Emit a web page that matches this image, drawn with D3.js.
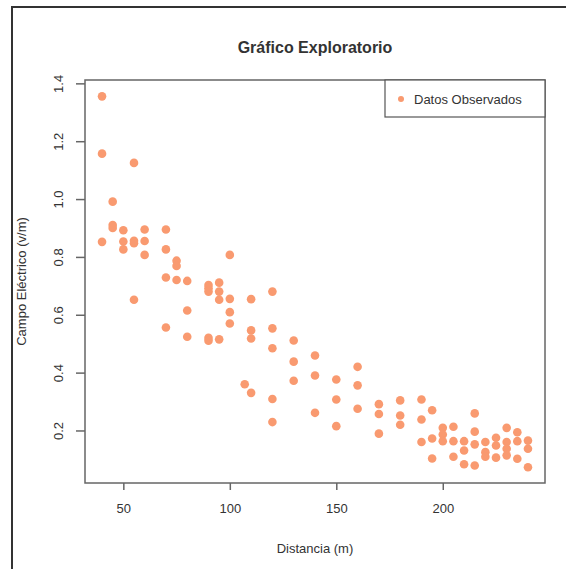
<!DOCTYPE html>
<html lang="es">
<head>
    <meta charset="UTF-8">
    <title>Gráfico Exploratorio</title>
    <script src="https://cdn.jsdelivr.net/npm/d3@7"></script>
    <style>
        body { margin: 0; background: #fff; }
        text { font-family: "Liberation Sans", Arial, sans-serif; fill: #333; }
    </style>
</head>
<body>
    <script>
        // canvas size
        var w = 566;
        var h = 569;

        // data: distance (m) and field (v/m)
        var distancia = [
            40, 40, 40, 45, 45, 45, 50, 50, 50, 55, 55, 55, 55, 60, 60, 60,
            70, 70, 70, 70, 75, 75, 75, 80, 80, 80, 90, 90, 90, 90, 90,
            95, 95, 95, 95, 100, 100, 100, 100, 107, 110, 110, 110, 110,
            120, 120, 120, 120, 120, 130, 130, 130, 140, 140, 140,
            150, 150, 150, 160, 160, 160, 170, 170, 170, 180, 180, 180,
            190, 190, 190, 195, 195, 195, 200, 200, 200, 205, 205, 205,
            210, 210, 210, 215, 215, 215, 215, 220, 220, 220, 225, 225, 225,
            230, 230, 230, 230, 235, 235, 235, 240, 240, 240
        ];
        var campo = [
            1.355, 1.157, 0.852, 0.991, 0.91, 0.90, 0.892, 0.853, 0.826, 1.125, 0.856, 0.847, 0.652, 0.895, 0.855, 0.807,
            0.895, 0.826, 0.729, 0.556, 0.787, 0.769, 0.72, 0.717, 0.615, 0.524, 0.703, 0.692, 0.68, 0.52, 0.51,
            0.711, 0.68, 0.652, 0.515, 0.807, 0.655, 0.609, 0.57, 0.36, 0.654, 0.546, 0.518, 0.33,
            0.68, 0.553, 0.484, 0.309, 0.229, 0.511, 0.438, 0.372, 0.459, 0.39, 0.261,
            0.376, 0.307, 0.215, 0.42, 0.356, 0.275, 0.291, 0.257, 0.189, 0.304, 0.252, 0.22,
            0.307, 0.238, 0.16, 0.27, 0.172, 0.103, 0.209, 0.186, 0.163, 0.213, 0.163, 0.109,
            0.163, 0.131, 0.083, 0.259, 0.196, 0.152, 0.079, 0.16, 0.125, 0.109, 0.175, 0.148, 0.106,
            0.209, 0.16, 0.137, 0.114, 0.194, 0.163, 0.102, 0.165, 0.137, 0.073
        ];
        var xTicks = [50, 100, 150, 200];
        var yTicks = [0.2, 0.4, 0.6, 0.8, 1.0, 1.2, 1.4];

        var dataset = distancia.map(function(d, i) {
            return { x: d, y: campo[i] };
        });

        // plot box (window.top is taken, so plain names with a prefix)
        var boxLeft = 85, boxRight = 545, boxTop = 80, boxBottom = 483;
        var color = '#f99a70';

        var svg = d3.select('body')
                    .append('svg')
                    .attr('width', w)
                    .attr('height', h);

        // outer frame (only top and left visible in the crop)
        svg.append('rect')
            .attr('x', 12)
            .attr('y', 7)
            .attr('width', 700)
            .attr('height', 700)
            .attr('fill', 'none')
            .attr('stroke', '#333')
            .attr('stroke-width', 2);

        // R-style 4% padding on both axes
        var x = d3.scaleLinear().domain([32, 248]).range([boxLeft, boxRight]);
        var y = d3.scaleLinear().domain([0.0184, 1.4116]).range([boxBottom, boxTop]);

        // points
        svg.selectAll('circle.pt')
            .data(dataset)
            .enter()
            .append('circle')
            .attr('class', 'pt')
            .attr('cx', function(d) { return x(d.x); })
            .attr('cy', function(d) { return y(d.y); })
            .attr('r', 4.3)
            .attr('fill', color);

        // box
        svg.append('rect')
            .attr('x', boxLeft)
            .attr('y', boxTop)
            .attr('width', boxRight - boxLeft)
            .attr('height', boxBottom - boxTop)
            .attr('fill', 'none')
            .attr('stroke', '#666')
            .attr('stroke-width', 1.5);

        // x axis
        var xAxis = d3.axisBottom(x)
            .tickValues(xTicks)
            .tickSize(7)
            .tickPadding(14)
            .tickFormat(d3.format('d'));
        var gx = svg.append('g')
            .attr('transform', 'translate(0,' + boxBottom + ')')
            .call(xAxis);
        gx.select('.domain').remove();
        gx.selectAll('line').attr('stroke', '#666').attr('stroke-width', 1.5);
        gx.selectAll('text')
            .attr('font-size', '13px')
            .attr('font-family', '"Liberation Sans", Arial, sans-serif')
            .attr('fill', '#333');

        // y axis (labels rotated like R's default)
        var yAxis = d3.axisLeft(y)
            .tickValues(yTicks)
            .tickSize(9)
            .tickFormat(d3.format('.1f'));
        var gy = svg.append('g')
            .attr('transform', 'translate(' + boxLeft + ',0)')
            .call(yAxis);
        gy.select('.domain').remove();
        gy.selectAll('line').attr('stroke', '#666').attr('stroke-width', 1.5);
        gy.selectAll('text')
            .attr('x', 0)
            .attr('dy', 0)
            .attr('transform', 'translate(-27,0) rotate(-90)')
            .attr('text-anchor', 'middle')
            .attr('dominant-baseline', 'central')
            .attr('font-size', '13px')
            .attr('font-family', '"Liberation Sans", Arial, sans-serif')
            .attr('fill', '#333');

        // title
        svg.append('text')
            .text('Gráfico Exploratorio')
            .attr('x', (boxLeft + boxRight) / 2)
            .attr('y', 53)
            .attr('text-anchor', 'middle')
            .attr('font-size', '16px')
            .attr('font-weight', 'bold')
            .attr('fill', '#222');

        // axis titles
        svg.append('text')
            .text('Distancia (m)')
            .attr('x', (boxLeft + boxRight) / 2)
            .attr('y', 553)
            .attr('text-anchor', 'middle')
            .attr('font-size', '13px');

        svg.append('text')
            .text('Campo Eléctrico (v/m)')
            .attr('transform', 'translate(26,' + ((boxTop + boxBottom) / 2) + ') rotate(-90)')
            .attr('text-anchor', 'middle')
            .attr('font-size', '13px');

        // legend
        var legend = svg.append('g');
        legend.append('rect')
            .attr('x', 385)
            .attr('y', boxTop)
            .attr('width', boxRight - 385)
            .attr('height', 37)
            .attr('fill', '#fff')
            .attr('stroke', '#555')
            .attr('stroke-width', 1.2);
        legend.append('circle')
            .attr('cx', 401)
            .attr('cy', 99)
            .attr('r', 3)
            .attr('fill', color);
        legend.append('text')
            .text('Datos Observados')
            .attr('x', 414)
            .attr('y', 104)
            .attr('font-size', '13px');

    </script>
</body>
</html>
